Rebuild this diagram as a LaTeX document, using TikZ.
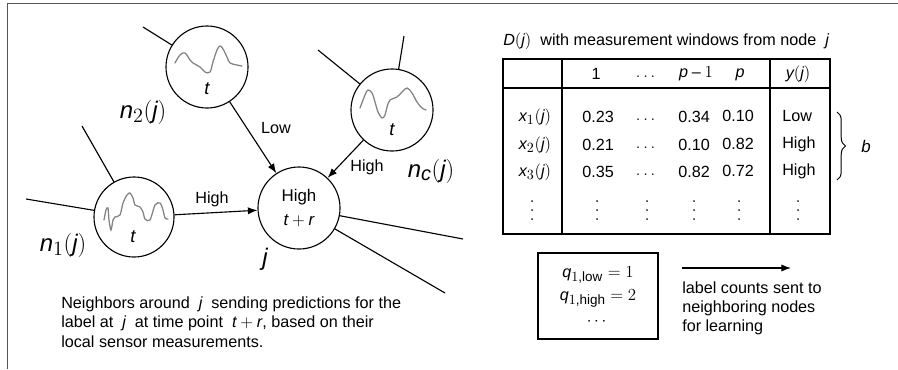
\documentclass[tikz,border=0pt]{standalone}
\usepackage{amsmath}
\usepackage{fontspec}
\setmainfont{Liberation Sans}
\usepackage[italic]{mathastext}
\usepackage{tikz}
\usetikzlibrary{positioning, arrows.meta, decorations.pathreplacing}
\definecolor{framegray}{RGB}{85,85,85}
\definecolor{wavegray}{RGB}{130,130,130}

\begin{document}
\begin{tikzpicture}[
    x=0.025cm, y=-0.025cm,
    every node/.style={font=\fontsize{11.5}{14.2}\selectfont, inner sep=0pt},
    sensor/.style={circle, draw, line width=0.8pt, minimum size=2.05cm},
    wave/.style={draw=wavegray, line width=0.9pt, line cap=round},
    link/.style={line width=0.8pt},
    arr/.style={line width=0.8pt, -{Latex[length=2.4mm, width=1.8mm]}},
    big/.style={font=\fontsize{17}{19}\selectfont},
    cell/.style={anchor=center},
    grid/.style={line width=1pt},
  ]
    \useasboundingbox (0,0) rectangle (898,369);
    % frame
    \draw[framegray, line width=1pt] (7.5,369) -- (7.5,3.5) -- (898,3.5);
    % sensor nodes
    \node[sensor] (n2) at (207,67) {};
    \node[sensor] (nc) at (392,110) {};
    \node[sensor, minimum size=2cm] (n1) at (134,217) {};
    \node[sensor, align=center, font=\fontsize{12}{15.5}\selectfont] (j) at (299,208)
      {High\\[1pt]$t+r$};
    % measurement curves
    \draw[wave, shift={(n2)}] plot[smooth, tension=0.6] coordinates {(-32,-4) (-27,-12)
      (-22,-14) (-17,-7) (-14,-4) (-7,0) (-2,5) (3,5) (6,-5) (10,-17) (13,-21) (16,-18)
      (20,-10) (23,-4) (30,-2) (35,-1)};
    \draw[wave, shift={(nc)}] plot[smooth, tension=0.6] coordinates {(-32,-2) (-27,-15)
      (-24,-20) (-20,-17) (-17,-8) (-14,2) (-10,8) (-7,5) (-5,-3) (-2,-10) (5,-13)
      (10,-18) (15,-22) (20,-17) (25,-8) (30,-2) (34,0)};
    \draw[wave, shift={(n1)}] plot[smooth, tension=0.5] coordinates {(-30,3) (-28,-7)
      (-26,-9) (-25,3) (-23,13) (-21,3) (-19,0) (-14,-2) (-11,-14) (-7,-22) (-4,-24)
      (-1,-19) (1,-12) (6,-10) (9,-5) (11,2) (16,3) (21,-12) (26,-14) (29,-7) (31,1) (34,2)};
    \node[font=\fontsize{13}{15}\selectfont] (t2) at (207,89) {$t$};
    \node[font=\fontsize{13}{15}\selectfont] (tc) at (392,130) {$t$};
    \node[font=\fontsize{13}{15}\selectfont] (t1) at (133,237) {$t$};
    % node names
    \node[big] (l2) at (143,112) {$n_2(j)$};
    \node[big] (lc) at (431,171) {$n_c(j)$};
    \node[big] (l1) at (63,245) {$n_1(j)$};
    \node[big] (lj) at (265,259) {$j$};
    % loose ends towards other nodes
    \coordinate (e2a) at (143,27);
    \coordinate (eca) at (318,50);
    \coordinate (ecb) at (404,36);
    \coordinate (e1a) at (82,126);
    \coordinate (e1b) at (26,199);
    \coordinate (eja) at (463,239);
    \coordinate (ejb) at (445,293);
    \foreach \a/\b in {n2/e2a, nc/eca, nc/ecb, n1/e1a, n1/e1b, j/eja, j/ejb}
      \draw[link] (\a) -- (\b);
    % predictions sent to j
    \draw[arr] (n2) -- (j);
    \draw[arr] (nc) -- (j);
    \draw[arr] (n1) -- (j);
    \node (p2) at (276,128) {Low};
    \node (pc) at (367,167) {High};
    \node (p1) at (212,199) {High};
    % caption
    \node[anchor=north west, align=left] (cap) at (61,296)
      {Neighbors around \ $j$ \ sending predictions for the\\
       label at \ $j$ \ at time point \ $t+r$, based on their\\
       local sensor measurements.};
    % data table D(j)
    \node[anchor=west] (title) at (503,41)
      {$D(j)$ \ with measurement windows from node \ $j$};
    \draw[grid] (503,59) rectangle (830,234);
    \draw[grid] (562,59) -- (562,234);
    \draw[grid] (770,59) -- (770,234);
    \draw[grid] (503,88) -- (830,88);
    \node[cell] (h1) at (596,74) {1};
    \node[cell] (h2) at (647,77) {$\dots$};
    \node[cell] (h3) at (696,74) {$p-1$};
    \node[cell] (h4) at (740,75) {$p$};
    \node[cell] (h5) at (798,74) {$y(j)$};
    \foreach \y/\r/\a/\b/\c/\lv in {117/1/0.23/0.34/0.10/Low,
        145/2/0.21/0.10/0.82/High, 172/3/0.35/0.82/0.72/High} {
      \node[cell] (r\r) at (535,\y) {$x_{\r}(j)$};
      \node[cell] (r\r a) at (598,\y) {\a};
      \node[cell] (r\r d) at (647,\y+3) {$\dots$};
      \node[cell] (r\r b) at (694,\y) {\b};
      \node[cell] (r\r c) at (738,\y-1) {\c};
      \node[anchor=west] (r\r y) at (782,\y-1) {\lv};
    }
    % vertical dots
    \foreach \x in {532,597,647,694,739,798}
      \foreach \d in {-9,0,9}
        \fill (\x,210+\d) circle (0.7pt);
    % batch brace
    \draw[line width=0.7pt, decorate, decoration={brace, amplitude=6pt}]
      (837,112) -- (837,180);
    \node[cell, font=\fontsize{12}{14}\selectfont] (b) at (866,146) {$b$};
    % label counts
    \node[draw, line width=1pt, minimum width=3cm, minimum height=2.15cm, align=center,
      font=\fontsize{11.5}{15.6}\selectfont]
      (q) at (598,296) {$q_{1,\text{low}}=1$\\[1pt] $q_{1,\text{high}}=2$\\[2pt] $\cdots$};
    \coordinate (qa) at (682,268);
    \coordinate (qb) at (791,268);
    \draw[arr] (qa) -- (qb);
    \node[anchor=north west, align=left,
      font=\fontsize{11.5}{13.8}\selectfont] (qtext) at (682,281)
      {label counts sent to\\ neighboring nodes\\ for learning};
\end{tikzpicture}
\end{document}
